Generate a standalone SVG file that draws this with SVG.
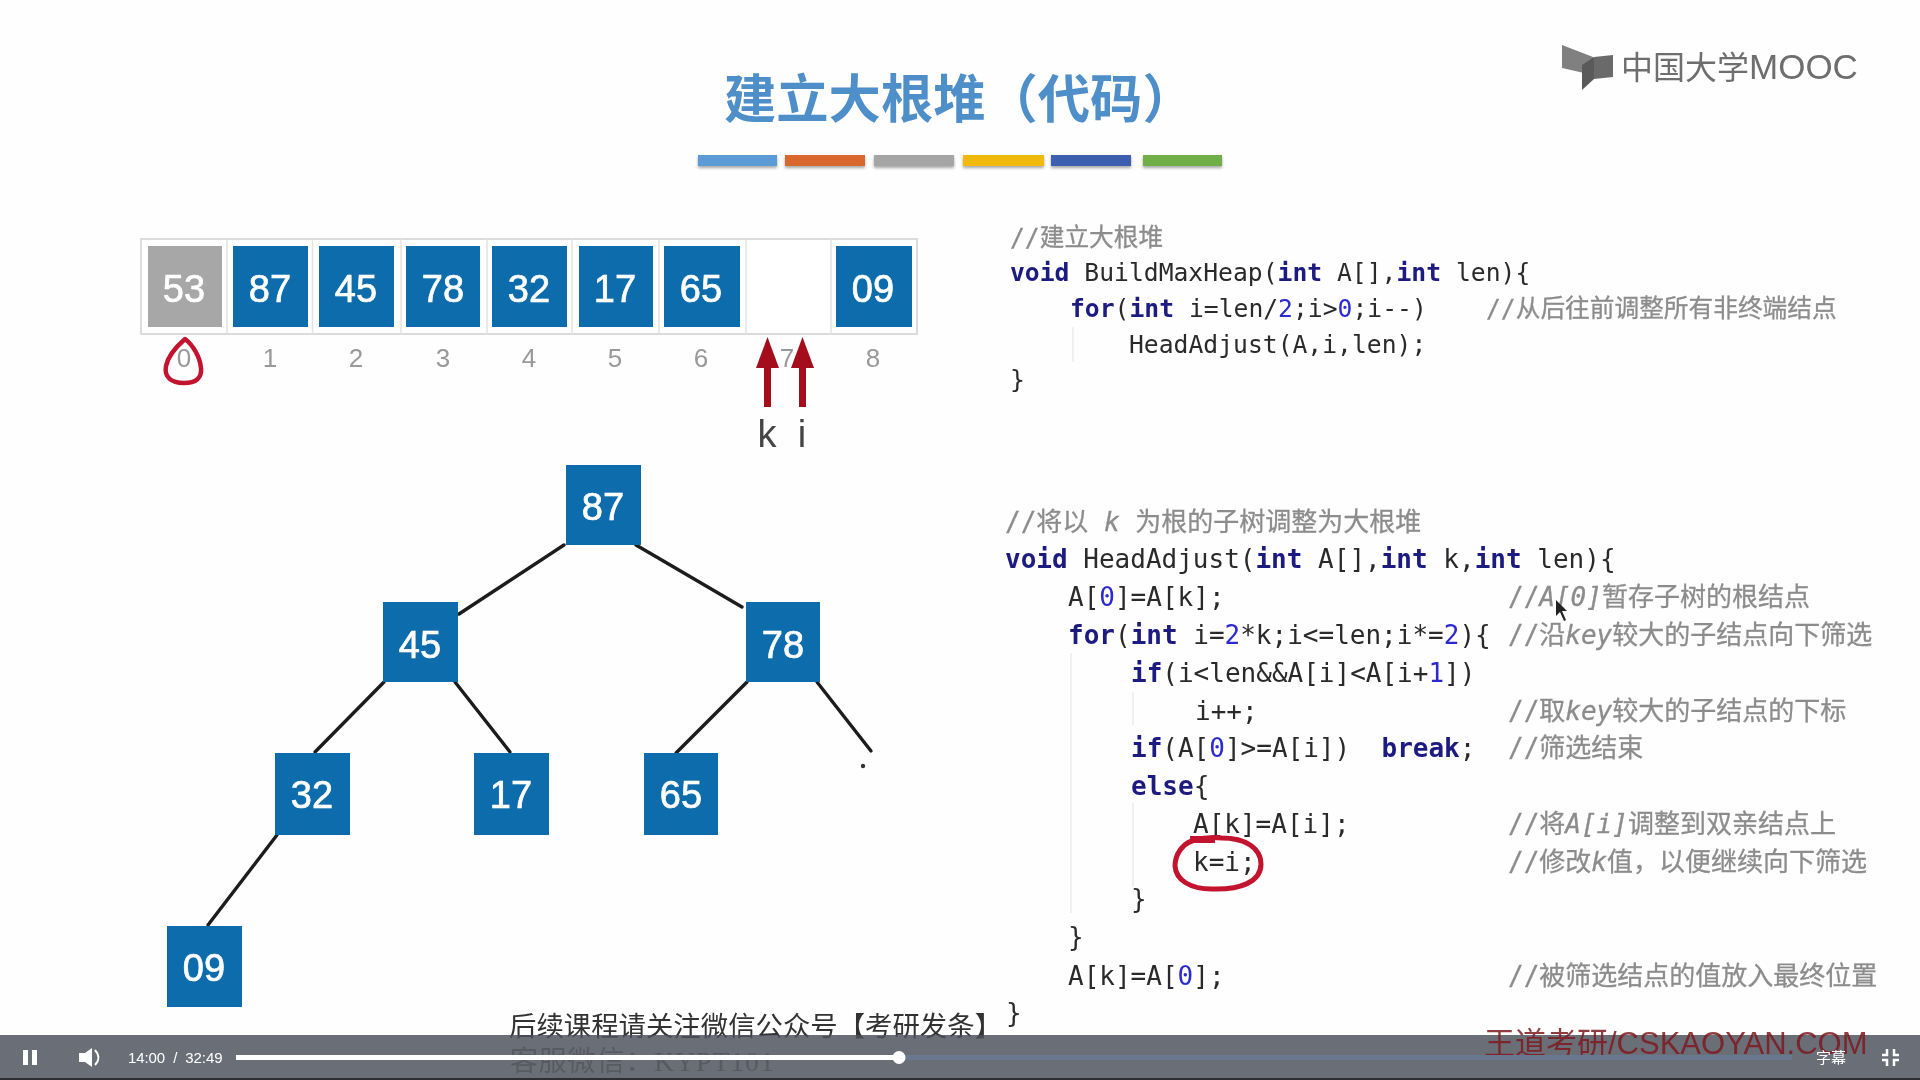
<svg xmlns="http://www.w3.org/2000/svg" width="1920" height="1080" viewBox="0 0 1920 1080">
<defs>
<filter id="soft" x="0" y="0" width="1920" height="1080" filterUnits="userSpaceOnUse" primitiveUnits="userSpaceOnUse"><feGaussianBlur stdDeviation="0.7"/></filter>
<filter id="shadow" x="-10%" y="-50%" width="120%" height="220%"><feGaussianBlur in="SourceAlpha" stdDeviation="1.5"/><feOffset dy="2"/><feComponentTransfer><feFuncA type="linear" slope="0.35"/></feComponentTransfer><feMerge><feMergeNode/><feMergeNode in="SourceGraphic"/></feMerge></filter>
<linearGradient id="noticeFill" gradientUnits="userSpaceOnUse" x1="0" y1="1000" x2="0" y2="1050"><stop offset="0.7" stop-color="#333"/><stop offset="0.7" stop-color="#4a4c53"/></linearGradient>
</defs>
<style>
text{white-space:pre}
.n{font-family:"Liberation Sans",Arial,sans-serif;font-size:38px;fill:#fff;text-anchor:middle;stroke:#fff;stroke-width:.7}
.blue{fill:#0f6cab}
.idx{font-family:"Liberation Sans",Arial,sans-serif;font-size:26px;fill:#999;text-anchor:middle}
.edge{stroke:#1c1c1c;stroke-width:3.4;fill:none;stroke-linecap:round}
.c1,.c2{font-family:"DejaVu Sans Mono","Noto Sans CJK SC",monospace;fill:#2a2a2a}
.c1{font-size:24.7px}
.c2{font-size:26px}
.k{fill:#1d1a80;font-weight:700}
.d{fill:#2b2bd0}
.g{fill:#8c8c8c;stroke:#8c8c8c;stroke-width:.3}
.g tspan{font-style:italic}
.guide{stroke:#ececec;stroke-width:1.5}
.doodle{fill:none;stroke:#c2142e;stroke-linecap:round;stroke-linejoin:round}
.bar{stroke:none}
</style>
<rect width="1920" height="1080" fill="#fefefe"/>
<g filter="url(#soft)">
<g id="title">
<text x="724" y="118" font-family="'Noto Sans CJK SC',sans-serif" font-size="52.300" font-weight="700" fill="#4f8fc9">建立大根堆（代码）</text>
<g filter="url(#shadow)">
<rect class="bar" x="698" y="155" width="79" height="11" fill="#5b9bd5"/>
<rect class="bar" x="785" y="155" width="80" height="11" fill="#d9682e"/>
<rect class="bar" x="874" y="155" width="80" height="11" fill="#a5a5a5"/>
<rect class="bar" x="963" y="155" width="81" height="11" fill="#f2b90f"/>
<rect class="bar" x="1051" y="155" width="80" height="11" fill="#3e5fb0"/>
<rect class="bar" x="1143" y="155" width="79" height="11" fill="#6fae47"/>
</g>
</g>
<g id="logo">
<polygon points="1562,45 1593,57 1593,75 1562,68" fill="#808080"/>
<polygon points="1582,65 1594,57 1594,79 1582,90" fill="#5a5a5a"/>
<polygon points="1594,57 1613,55 1613,77 1594,79" fill="#6a6a6a"/>
<text x="1621" y="79" font-family="'Noto Sans CJK SC',sans-serif" font-size="32" fill="#6e6e6e">中国大学<tspan font-family="'Liberation Sans',sans-serif" font-size="35">MOOC</tspan></text>
</g>
<g id="array">
<rect x="141" y="239" width="776" height="95" fill="#fff" stroke="#dcdcdc" stroke-width="2"/>
<path d="M227 239V334M312.500 239V334M401 239V334M487 239V334M572 239V334M659 239V334M746 239V334M831 239V334" stroke="#e4e4e4" stroke-width="1.500"/>
<g id="cell-0"><rect x="148" y="246" width="74" height="81" fill="#a7a7a7"/><text class="n" x="184" y="302">53</text><text class="idx" x="184" y="367">0</text></g>
<g id="cell-1"><rect class="blue" x="233" y="246" width="75" height="81"/><text class="n" x="270" y="302">87</text><text class="idx" x="270" y="367">1</text></g>
<g id="cell-2"><rect class="blue" x="319" y="246" width="75" height="81"/><text class="n" x="356" y="302">45</text><text class="idx" x="356" y="367">2</text></g>
<g id="cell-3"><rect class="blue" x="406" y="246" width="74" height="81"/><text class="n" x="443" y="302">78</text><text class="idx" x="443" y="367">3</text></g>
<g id="cell-4"><rect class="blue" x="492" y="246" width="75" height="81"/><text class="n" x="529" y="302">32</text><text class="idx" x="529" y="367">4</text></g>
<g id="cell-5"><rect class="blue" x="579" y="246" width="74" height="81"/><text class="n" x="615" y="302">17</text><text class="idx" x="615" y="367">5</text></g>
<g id="cell-6"><rect class="blue" x="664" y="246" width="76" height="81"/><text class="n" x="701" y="302">65</text><text class="idx" x="701" y="367">6</text></g>
<g id="cell-7"><text class="idx" x="787" y="367">7</text></g>
<g id="cell-8"><rect class="blue" x="836" y="246" width="76" height="81"/><text class="n" x="873" y="302">09</text><text class="idx" x="873" y="367">8</text></g>
</g>
<g id="pointers">
<line x1="767.500" y1="407" x2="767.500" y2="367" stroke="#a40d1c" stroke-width="7"/>
<line x1="802.500" y1="407" x2="802.500" y2="367" stroke="#a40d1c" stroke-width="7"/>
<polygon points="767.500,337 779,368 756,368" fill="#a40d1c"/>
<polygon points="802.500,337 814,368 791,368" fill="#a40d1c"/>
<text x="767" y="447" font-family="'Liberation Sans',sans-serif" font-size="38" fill="#444" text-anchor="middle">k</text>
<text x="802" y="447" font-family="'Liberation Sans',sans-serif" font-size="38" fill="#444" text-anchor="middle">i</text>
</g>
<g id="connectors">
<line class="edge" x1="564" y1="545" x2="459" y2="614"/>
<line class="edge" x1="636" y1="545" x2="742" y2="607"/>
<line class="edge" x1="384" y1="682" x2="315" y2="752"/>
<line class="edge" x1="455" y1="682" x2="510" y2="752"/>
<line class="edge" x1="747" y1="682" x2="676" y2="753"/>
<line class="edge" x1="817" y1="682" x2="871" y2="751"/>
<line class="edge" x1="277" y1="835" x2="208" y2="925"/>
</g>
<circle cx="863" cy="766" r="2.200" fill="#333"/>
<g id="node-87"><rect class="blue" x="566" y="465" width="75" height="80"/><text class="n" x="603" y="520">87</text></g>
<g id="node-45"><rect class="blue" x="383" y="602" width="75" height="80"/><text class="n" x="420" y="658">45</text></g>
<g id="node-78"><rect class="blue" x="746" y="602" width="74" height="80"/><text class="n" x="783" y="658">78</text></g>
<g id="node-32"><rect class="blue" x="275" y="753" width="75" height="82"/><text class="n" x="312" y="808">32</text></g>
<g id="node-17"><rect class="blue" x="474" y="753" width="75" height="82"/><text class="n" x="511" y="808">17</text></g>
<g id="node-65"><rect class="blue" x="644" y="753" width="74" height="82"/><text class="n" x="681" y="808">65</text></g>
<g id="node-09"><rect class="blue" x="167" y="926" width="75" height="81"/><text class="n" x="204" y="981">09</text></g>
<g id="code-1">
<path class="guide" d="M1073 327V362"/>
<text class="c1 g" x="1010" y="246">//建立大根堆</text>
<text class="c1" x="1010" y="281"><tspan class="k">void</tspan> BuildMaxHeap(<tspan class="k">int</tspan> A[],<tspan class="k">int</tspan> len){</text>
<text class="c1" x="1070" y="317"><tspan class="k">for</tspan>(<tspan class="k">int</tspan> i=len/<tspan class="d">2</tspan>;i&gt;<tspan class="d">0</tspan>;i--)</text>
<text class="c1 g" x="1486" y="317">//从后往前调整所有非终端结点</text>
<text class="c1" x="1129" y="353">HeadAdjust(A,i,len);</text>
<text class="c1" x="1010" y="388">}</text>
</g>
<g id="code-2">
<path class="guide" d="M1071 653V913M1133 692V725M1133 803V887"/>
<text class="c2 g" x="1005" y="531">//将以 <tspan>k</tspan> 为根的子树调整为大根堆</text>
<text class="c2" x="1005" y="568"><tspan class="k">void</tspan> HeadAdjust(<tspan class="k">int</tspan> A[],<tspan class="k">int</tspan> k,<tspan class="k">int</tspan> len){</text>
<text class="c2" x="1068" y="606">A[<tspan class="d">0</tspan>]=A[k];</text>
<text class="c2 g" x="1508" y="606">//<tspan>A[0]</tspan>暂存子树的根结点</text>
<text class="c2" x="1068" y="644"><tspan class="k">for</tspan>(<tspan class="k">int</tspan> i=<tspan class="d">2</tspan>*k;i&lt;=len;i*=<tspan class="d">2</tspan>){</text>
<text class="c2 g" x="1508" y="644">//沿<tspan>key</tspan>较大的子结点向下筛选</text>
<text class="c2" x="1131" y="682"><tspan class="k">if</tspan>(i&lt;len&amp;&amp;A[i]&lt;A[i+<tspan class="d">1</tspan>])</text>
<text class="c2" x="1195" y="720">i++;</text>
<text class="c2 g" x="1508" y="720">//取<tspan>key</tspan>较大的子结点的下标</text>
<text class="c2" x="1131" y="757"><tspan class="k">if</tspan>(A[<tspan class="d">0</tspan>]&gt;=A[i])  <tspan class="k">break</tspan>;</text>
<text class="c2 g" x="1508" y="757">//筛选结束</text>
<text class="c2" x="1131" y="795"><tspan class="k">else</tspan>{</text>
<text class="c2" x="1193" y="833">A[k]=A[i];</text>
<text class="c2 g" x="1508" y="833">//将<tspan>A[i]</tspan>调整到双亲结点上</text>
<text class="c2" x="1193" y="871">k=i;</text>
<text class="c2 g" x="1508" y="871">//修改<tspan>k</tspan>值，以便继续向下筛选</text>
<text class="c2" x="1131" y="908">}</text>
<text class="c2" x="1068" y="946">}</text>
<text class="c2" x="1068" y="985">A[k]=A[<tspan class="d">0</tspan>];</text>
<text class="c2 g" x="1508" y="985">//被筛选结点的值放入最终位置</text>
<text class="c2" x="1006" y="1022">}</text>
</g>
</g>
<g id="doodles">
<path class="doodle" stroke-width="4.500" d="M185 339C177 346 168 356 166 366C164 377 171 383 184 383C196 383 202 378 201 368C200 357 193 345 185 339Z"/>
<path class="doodle" stroke-width="5" d="M1195 840C1182 843 1175 855 1175 866C1176 880 1190 889 1212 889C1240 890 1261 882 1261 864C1261 848 1245 838 1222 838C1212 837 1202 838 1195 840Z"/>
<rect x="1190" y="836" width="25" height="7" fill="#c2142e"/>
<polygon points="1556,600 1556,616 1560,612 1564,621 1566,620 1562,611 1567,611" fill="#222"/>
</g>
<g id="player">
<rect x="0" y="1035" width="1920" height="45" fill="#6a6e77"/>
<rect x="0" y="1078" width="1920" height="2" fill="#2c2e33"/>
<text x="509" y="1036" font-family="'Noto Sans CJK SC',serif" font-size="27.400" fill="url(#noticeFill)" filter="url(#soft)">后续课程请关注微信公众号【考研发条】</text>
<text x="510" y="1071" font-family="'Liberation Serif','Noto Sans CJK SC',serif" font-size="28" letter-spacing=".8" fill="#222" opacity=".25">客服微信：KYPT101</text>
<text x="1484" y="1054" font-family="'Liberation Sans','Noto Sans CJK SC',sans-serif" font-size="31" fill="#7d1a20" opacity=".85">王道考研/CSKAOYAN.COM</text>
<rect x="236" y="1055" width="1556" height="5" fill="#68788f"/>
<rect x="236" y="1055" width="663" height="5" fill="#fff"/>
<circle cx="899" cy="1057.500" r="6.500" fill="#fff"/>
<rect x="23" y="1050" width="5" height="15" fill="#fff"/>
<rect x="32" y="1050" width="5" height="15" fill="#fff"/>
<polygon points="79,1053 85,1053 92,1048 92,1067 85,1062 79,1062" fill="#fff"/>
<path d="M95 1050Q102 1057.500 95 1065" fill="none" stroke="#fff" stroke-width="2"/>
<text x="128" y="1063" font-family="'Liberation Sans',sans-serif" font-size="15" letter-spacing="-.1" fill="#fff" xml:space="preserve">14:00  /  32:49</text>
<text x="1816" y="1063" font-family="'Noto Sans CJK SC',sans-serif" font-size="15" fill="#fff">字幕</text>
<path d="M1887 1049V1055H1882M1894 1049V1055H1899M1887 1066V1060H1882M1894 1066V1060H1899" fill="none" stroke="#fff" stroke-width="2.500"/>
</g>
</svg>
